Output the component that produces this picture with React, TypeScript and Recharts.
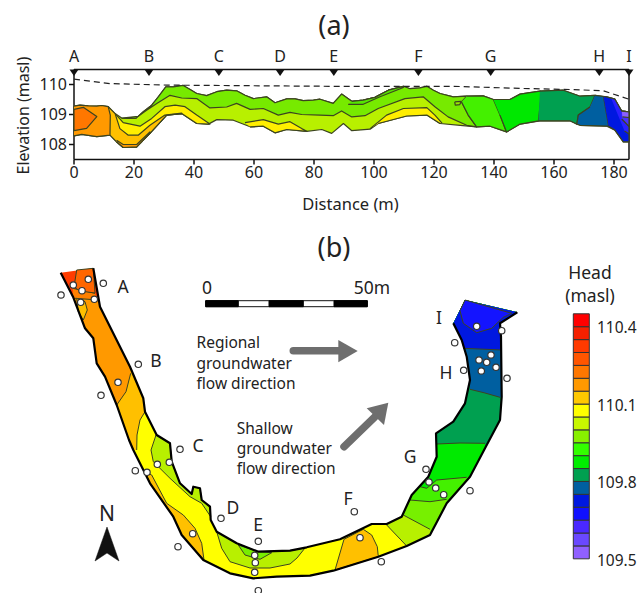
import { Bar, BarChart, Scatter, ScatterChart, XAxis, YAxis } from 'recharts'

type Pt = [number, number]

const FONT = '"Noto Sans", sans-serif'
const INK = '#222222'
const CONTOUR = '#3c4420'

// (a) longitudinal section, distance (m) / elevation (masl)
const distanceTicks = [0, 20, 40, 60, 80, 100, 120, 140, 160, 180]
const elevationTicks = [108, 109, 110]
const sectionNames = ['A', 'B', 'C', 'D', 'E', 'F', 'G', 'H', 'I']
const sectionDistances = [0, 25, 48.3, 68.7, 86.6, 114.8, 138.9, 175.1, 185]

const waterTable: Pt[] = [
  [0, 110.18], [12, 110.03], [30.9, 109.98], [85.3, 109.94], [126.4, 109.94],
  [148.7, 109.87], [166.5, 109.83], [176.5, 109.79], [185, 109.51],
]

const topEdge: Pt[] = [
  [0, 109.28], [2, 109.31], [4.8, 109.29], [7.6, 109.28], [9.2, 109.3], [11.4, 109.26], [13.7, 109.03],
  [15.9, 108.88], [18.1, 108.87], [20.7, 108.88], [23.1, 109.09], [25.9, 109.31], [28.1, 109.59],
  [30.6, 109.92], [33.1, 109.92], [36.4, 109.97], [38.7, 109.83], [40.9, 109.7], [44.2, 109.63],
  [47.6, 109.76], [50.9, 109.81], [54.2, 109.79], [57, 109.64], [59.8, 109.53], [64.2, 109.59],
  [67, 109.39], [70.9, 109.52], [73.7, 109.52], [76.4, 109.46], [79.8, 109.48], [82, 109.51],
  [86.4, 109.37], [89.2, 109.68], [92.6, 109.44], [96.4, 109.48], [100.3, 109.57], [104.8, 109.81],
  [109.8, 109.94], [112, 109.86], [115.3, 109.89], [117.6, 109.94], [119.8, 109.81], [122, 109.7],
  [126.4, 109.59], [130.9, 109.61], [136.4, 109.62], [139.8, 109.5], [145.3, 109.5], [148.7, 109.68],
  [155.3, 109.78], [163.1, 109.81], [168.7, 109.61], [173.7, 109.64], [177.6, 109.59], [180.3, 109.51],
  [182.6, 109.11], [185, 109.09],
]

const bottomEdge: Pt[] = [
  [0, 108.29], [2.6, 108.34], [7.6, 108.26], [12, 108.31], [14.2, 108.09], [16.4, 107.9], [20.9, 107.92],
  [25.3, 108.37], [30.9, 108.98], [35.9, 109.03], [40.9, 108.7], [44.8, 108.68], [47.6, 108.83],
  [53.1, 108.81], [58.7, 108.59], [63.1, 108.61], [67, 108.39], [70.9, 108.5], [77.6, 108.44],
  [82.6, 108.5], [85.9, 108.37], [89.8, 108.7], [92.6, 108.46], [98.7, 108.51], [101.4, 108.7],
  [110.9, 108.95], [117.6, 108.98], [122, 108.7], [128.7, 108.64], [134.2, 108.59], [138.7, 108.61],
  [144.2, 108.42], [148.7, 108.68], [155.3, 108.79], [165.3, 108.79], [168.7, 108.64], [177.6, 108.61],
  [180.3, 108.48], [183.1, 108.09], [185, 108.09],
]

const greenContour: Pt[] = [
  [15.9, 108.88], [21.4, 108.94], [24.2, 109.14], [27.6, 109.37], [32, 109.64], [35.9, 109.55],
  [40.9, 109.53], [45.3, 109.22], [50.9, 109.25], [54.2, 109.37], [58.7, 109.17], [63.1, 109.2],
  [68.1, 108.98], [72, 109.07], [75.9, 109], [82, 108.98], [86.4, 108.96], [89.2, 109.12], [92.6, 108.92],
  [97, 108.96], [101.4, 109.2], [110.3, 109.53], [116.4, 109.59], [120.3, 109.26], [124.7, 108.92],
  [130.9, 108.64], [134.2, 108.59],
]
const upperContour: Pt[] = [[91.4, 109.34], [96.4, 109.34], [102, 109.59], [109.8, 109.9]]
const yellowContour: Pt[] = [
  [13.7, 109.03], [16.4, 108.73], [22, 108.61], [25.9, 108.87], [30.3, 109.26], [33.7, 109.31],
  [37, 109.26], [40.9, 108.98], [45.3, 108.68],
]
const amberContour: Pt[] = [
  [11.4, 109.26], [13.7, 109.03], [15.3, 108.53], [18.1, 108.31], [21.4, 108.31], [25.3, 108.64],
  [30.3, 108.98], [35.9, 109.05],
]
const orangeContour: Pt[] = [[14.2, 108.14], [16.4, 108], [20.9, 108], [25.3, 108.42]]
const orangeCore: Pt[] = [[0, 109.17], [3.1, 109.24], [7.6, 108.93], [4.2, 108.54], [0, 108.46]]
const yellowMid: Pt[] = [[57, 108.73], [63.1, 108.83], [68.1, 108.68], [72, 108.76], [75.9, 108.53], [77.6, 108.44]]
const yellowRight: Pt[] = [[98.7, 108.53], [104.2, 108.98], [109.8, 109.2], [117.6, 109.23], [120.3, 108.98], [122.6, 108.72]]
const smallLens: Pt[] = [[126.9, 109.42], [129.1, 109.44], [128.6, 109.33], [127.1, 109.31]]

// (b) plan view, in map units
const outerBank: Pt[] = [
  [60.7, 272.7], [73, 296.7], [85, 328.3], [93.3, 338.3], [96.7, 363.3], [105, 376.7], [116.7, 405], [129, 440],
  [133.3, 450], [150, 483.3], [173.3, 516.7], [181.7, 535], [203.3, 560], [230, 573.3], [253.3, 578.3],
  [276.7, 576.7], [310, 575.7], [333.3, 570.7], [378.3, 556.7], [406.7, 546], [430, 535], [446.7, 503.3],
  [470, 476.7], [485, 448.3], [500, 420], [501.7, 396.7], [501, 336.7], [500, 323.3], [517.3, 312.3],
]
const innerBank: Pt[] = [
  [93.3, 268.3], [100, 306.7], [130, 366.7], [143.3, 398.3], [145, 411.7], [156.7, 435], [170, 443.3],
  [171.7, 461.7], [180, 483.3], [191.7, 494], [193.3, 486.7], [200, 488.3], [201.7, 500], [210, 506.7],
  [210.7, 520], [216.7, 531.7], [236.7, 543.3], [258.3, 551.7], [290, 550.7], [306.7, 547.3], [340, 539.3],
  [371.7, 524], [386.7, 524], [401.7, 516.7], [411.7, 495], [428.3, 476.7], [436.7, 456.7], [436, 433.3],
  [453.3, 421.7], [465, 403.3], [470, 380], [466.7, 356.7], [461.7, 340], [453.3, 323.3], [465, 300],
]

// contours crossing the channel, outer bank first
const channelCuts: Pt[][] = [
  [[72.7, 288.3], [95, 293.3]],
  [[75, 298.3], [98.3, 300]],
  [[116.7, 405], [126, 391.7], [130.7, 373.3]],
  [[136.7, 450], [137, 435], [140, 420], [145, 411.7]],
  [[406.7, 546], [386.7, 525]],
  [[430, 529.3], [403.3, 515]],
  [[446.7, 499.3], [430, 501.7], [410, 500]],
  [[466.7, 477.3], [436.7, 480], [426.7, 488.3], [420, 486.7]],
  [[485, 443.3], [460, 443], [436.7, 444]],
  [[500, 397.3], [485, 393], [470, 389.3]],
  [[501.7, 350], [463.3, 348.3]],
]
const channelColors = ['#ff8000', '#ff9900', '#ffc000', '#ffff00', '#b8f000', '#77f000', '#44f000', '#00ea00', '#00a050', '#005fa0', '#0018e0']

const patches: { pts: Pt[]; fill: string }[] = [
  { fill: '#ff6600', pts: [[76.7, 270], [93.3, 268.3], [95, 293], [80, 291], [74, 287]] },
  { fill: '#ffc000', pts: [[76.7, 298.3], [85, 301.7], [87.3, 310], [83.3, 320], [78.3, 311.7]] },
  { fill: '#b8f000', pts: [[156, 435], [170, 443.3], [171.7, 461.7], [180, 483.3], [191.7, 494], [193.3, 486.7], [200, 488.3], [201.7, 500], [210, 506.7], [210.7, 516.7], [201.7, 503.3], [190, 496.7], [170, 478.3], [153.3, 461.7], [151, 450]] },
  { fill: '#ffc000', pts: [[145, 471.7], [151.7, 475], [166.7, 503.3], [183.3, 515], [195, 528.3], [201.7, 543.3], [204, 560], [181.7, 535], [173.3, 516.7], [150, 483.3]] },
  { fill: '#b8f000', pts: [[216.7, 531.7], [236.7, 543.3], [258.3, 551.7], [290, 550.7], [305, 548], [297, 558], [290, 564], [270, 568], [250, 568], [230, 561.7], [221.7, 548.3]] },
  { fill: '#77ee00', pts: [[238.3, 545], [245, 555], [260, 559.3], [271.7, 552.7], [258.3, 551.7]] },
  { fill: '#ffc000', pts: [[335, 570], [344, 539.3], [363.3, 529.3], [371.7, 535], [377.3, 546.7], [378.3, 556.7]] },
  { fill: '#1414ff', pts: [[460, 310.7], [465, 300], [511.7, 313.3], [503.3, 317.3], [491.7, 328.3], [476.7, 332.7], [463.3, 323.3]] },
]

const wells: Pt[] = [
  [103.3, 283.3], [88.3, 279.3], [73.3, 285], [82, 290.7], [61, 295], [80.7, 302.3], [94.3, 299.3], [138.3, 364.3],
  [118, 382.3], [101, 395.3], [180, 449.3], [169.3, 462.3], [157.3, 464.3], [147, 472.3], [135.3, 470.7], [221, 518.3],
  [192.7, 533.7], [178, 546.7], [258.3, 541.3], [254.7, 555.3], [255.3, 562.7], [254.7, 572.3], [258.3, 590.7],
  [354.3, 511.7], [360, 537.7], [381.3, 561.7], [426, 469.3], [429, 482], [435.7, 488], [443.7, 494.7], [470, 490.7],
  [476.7, 326.3], [501.7, 330.7], [454.7, 342.7], [491, 355], [479, 360], [486.7, 362.3], [496, 367.3], [481.3, 371],
  [463.7, 370.3], [507, 378.3],
]

const siteLabels = [
  { x: 123, y: 286, text: 'A' }, { x: 156, y: 360, text: 'B' }, { x: 198, y: 445, text: 'C' },
  { x: 233, y: 507, text: 'D' }, { x: 258, y: 524, text: 'E' }, { x: 348, y: 498, text: 'F' },
  { x: 410, y: 456, text: 'G' }, { x: 446, y: 372, text: 'H' }, { x: 439, y: 317, text: 'I' },
]
const panelTitles = [{ x: 334, y: 24, text: '(a)' }, { x: 334, y: 246, text: '(b)' }]
const noteLines = [
  { x: 196.5, y: 341.7, text: 'Regional' }, { x: 196.5, y: 362.7, text: 'groundwater' }, { x: 196.5, y: 382.7, text: 'flow direction' },
  { x: 236.7, y: 428, text: 'Shallow' }, { x: 236.7, y: 448, text: 'groundwater' }, { x: 236.7, y: 468, text: 'flow direction' },
]
const scaleLabels = [{ x: 207, y: 287, text: '0' }, { x: 372, y: 287, text: '50m' }]
const legendTitle = [{ x: 590, y: 272, text: 'Head' }, { x: 590, y: 295, text: '(masl)' }]
const northLabel = [{ x: 107, y: 513, text: 'N' }]

const scaleBlocks: Pt[][] = [
  [[205.7, 300.7], [238.3, 300.7], [238.3, 306.7], [205.7, 306.7]],
  [[269, 300.7], [303.3, 300.7], [303.3, 306.7], [269, 306.7]],
  [[334, 300.7], [367.3, 300.7], [367.3, 306.7], [334, 306.7]],
]
const scaleFrame: Pt[] = [[205.7, 300.7], [367.3, 300.7], [367.3, 306.7], [205.7, 306.7], [205.7, 300.7]]
const northArrow: Pt[] = [[107, 527], [119, 561], [107, 553], [95, 561]]
const regionalShaft: Pt[] = [[293.3, 350.7], [340, 350.7]]
const regionalHead: Pt[] = [[338.3, 340], [357.7, 351], [338.3, 362.3]]
const shallowShaft: Pt[] = [[344, 446.7], [375, 416.7]]
const shallowHead: Pt[] = [[388.3, 402.7], [384, 425], [366.7, 408.3]]

// legend classes, lowest head first
const legendColors = [
  '#9060ff', '#6a48ff', '#4a28ff', '#1010ff', '#0018e0', '#005fa0', '#00a050', '#00ee00', '#33ff00', '#88f000',
  '#c8f800', '#ffff00', '#ffc800', '#ff9900', '#ff7700', '#ff5500', '#ff3a00', '#f52000', '#ff0000',
]
const legendTicks = [109.5, 109.8, 110.1, 110.4]
const legendBase = 109.505
const legendStep = 0.05

const legendRow: Record<string, number | string> = { name: 'head', base: legendBase }
legendColors.forEach((_, i) => {
  legendRow[`c${i}`] = legendStep
})

const toData = (pts: Pt[]) => pts.map(([x, y]) => ({ x, y }))
const rev = (pts: Pt[]) => [...pts].reverse()
const between = (edge: Pt[], a: number, b: number) => edge.filter(([x]) => x >= a && x <= b)
const close = (pts: Pt[]) => [...pts, pts[0]]

const NoMark = () => <g />

function nearest(bank: Pt[], p: Pt) {
  let best = 0
  let bestD = Infinity
  bank.forEach(([x, y], i) => {
    const d = (x - p[0]) ** 2 + (y - p[1]) ** 2
    if (d < bestD) {
      bestD = d
      best = i
    }
  })
  return best
}

// channel from a contour to the far end at I
function downstreamOf(cut: Pt[]): Pt[] {
  const o = nearest(outerBank, cut[0])
  const n = nearest(innerBank, cut[cut.length - 1])
  return [...cut, ...innerBank.slice(n), ...rev(outerBank.slice(o))]
}

function poly(key: string, pts: Pt[], fill: string, stroke = 'none', strokeWidth = 1.2, extra: object = {}) {
  return (
    <Scatter
      key={key}
      data={toData(pts)}
      shape={NoMark}
      line={{ fill, stroke, strokeWidth, strokeLinejoin: 'round', ...extra }}
      isAnimationActive={false}
    />
  )
}

function textGroup(
  key: string,
  data: { x: number; y: number; text: string }[],
  size: number,
  anchor: 'start' | 'middle' | 'end' = 'middle',
) {
  return (
    <Scatter
      key={key}
      data={data}
      isAnimationActive={false}
      shape={(p: any) => (
        <text
          x={p.cx}
          y={p.cy}
          fontSize={size}
          fontFamily={FONT}
          fill={INK}
          textAnchor={anchor}
          dominantBaseline="central"
        >
          {p.payload?.text ?? p.text}
        </text>
      )}
    />
  )
}

function SectionMark(p: any) {
  const { cx, cy } = p
  const name = p.payload?.name ?? p.name
  return (
    <g>
      <path d={`M${cx - 4.5} ${cy}L${cx + 4.5} ${cy}L${cx} ${cy + 6.5}Z`} fill="#111" />
      <text x={cx} y={cy - 8} fontSize={16} fontFamily={FONT} fill={INK} textAnchor="middle">
        {name}
      </text>
    </g>
  )
}

function WellMark(p: any) {
  return <circle cx={p.cx} cy={p.cy} r={3.2} fill="#fff" stroke="#333" strokeWidth={1.2} />
}

const sectionMarks = sectionNames.map((name, i) => ({ x: sectionDistances[i], y: 110.5, name }))
const axisTick = { fontSize: 16, fill: INK, fontFamily: FONT }

function SectionChart() {
  return (
    <ScatterChart width={639} height={215} margin={{ top: 50.5, right: 0, bottom: 10.5, left: 0 }}>
      <XAxis
        type="number"
        dataKey="x"
        domain={[0, 185]}
        ticks={distanceTicks}
        interval={0}
        height={45}
        tick={axisTick}
        tickSize={5}
        stroke="#111"
        strokeWidth={1.5}
        label={{ value: 'Distance (m)', position: 'insideBottom', offset: -5, fontSize: 16.5, fill: INK, fontFamily: FONT, dx: -1 }}
      />
      <XAxis
        xAxisId="top"
        orientation="top"
        type="number"
        dataKey="x"
        domain={[0, 185]}
        ticks={distanceTicks}
        interval={0}
        height={19}
        tick={false}
        tickSize={5}
        stroke="#111"
        strokeWidth={1.5}
      />
      <YAxis
        type="number"
        dataKey="y"
        domain={[107.5, 110.5]}
        ticks={elevationTicks}
        interval={0}
        width={74}
        tick={axisTick}
        tickSize={5}
        stroke="#111"
        strokeWidth={1.5}
        label={{ value: 'Elevation (masl)', angle: -90, position: 'insideLeft', offset: 23, fontSize: 16, fill: INK, fontFamily: FONT, dy: 60 }}
      />
      <YAxis
        yAxisId="right"
        orientation="right"
        type="number"
        dataKey="y"
        domain={[107.5, 110.5]}
        ticks={elevationTicks}
        interval={0}
        width={10}
        tick={false}
        tickSize={4}
        stroke="#111"
        strokeWidth={1.5}
      />
      {poly('all', close([...topEdge, ...rev(bottomEdge)]), '#b8f000', CONTOUR)}
      {poly('upper', [...between(topEdge, 15.9, 130.9), [129.2, 109.42], [131.4, 108.98], ...rev(greenContour)], '#77ea00', CONTOUR)}
      {poly('thin', [...between(topEdge, 92.6, 109.8), ...rev(upperContour)], '#55e600', CONTOUR)}
      {poly('lens', close(smallLens), '#99e800', CONTOUR)}
      {poly('yellow', [...yellowContour, ...rev(between(bottomEdge, 14.2, 44.8))], '#ffee00', CONTOUR)}
      {poly('yellow2', [...yellowMid, ...rev(between(bottomEdge, 58.7, 77.6))], '#ffee00', CONTOUR)}
      {poly('yellow3', [...yellowRight, ...rev(between(bottomEdge, 101.4, 122))], '#ffee00', CONTOUR)}
      {poly('amber', [...amberContour, ...rev(between(bottomEdge, 12, 35.9))], '#ffc000', CONTOUR)}
      {poly('sliver', [...orangeContour, ...rev(between(bottomEdge, 14.2, 25.3))], '#ff9900', CONTOUR)}
      {poly('orange', [...between(topEdge, 0, 11.4), [12.1, 108.98], ...rev(between(bottomEdge, 0, 12))], '#ff9900', CONTOUR)}
      {poly('core', close(orangeCore), '#ff7700', CONTOUR)}
      {poly('g2', [...between(topEdge, 130.9, 139.8), [142, 108.98], [144, 108.45], ...rev(between(bottomEdge, 134.2, 144.2)), [131.4, 108.98], [129.2, 109.42]], '#44f000', CONTOUR)}
      {poly('g3', [...between(topEdge, 139.8, 155.3), [155.9, 109.76], [154.8, 108.79], ...rev(between(bottomEdge, 144.2, 154)), [142, 108.98]], '#00e800', CONTOUR)}
      {poly('g4', [...between(topEdge, 155.3, 173.7), [172, 109.25], [168.1, 108.98], [167.6, 108.68], ...rev(between(bottomEdge, 155.3, 167)), [154.8, 108.79]], '#00a050', CONTOUR)}
      {poly('g5', [[173.7, 109.64], [176.5, 109.6], [178.2, 108.61], [168.7, 108.64], [167.6, 108.68], [168.1, 108.98], [172, 109.25]], '#005fa0', CONTOUR)}
      {poly('g6', [[176.5, 109.6], ...between(topEdge, 177, 185), ...rev(between(bottomEdge, 178, 185)), [178.2, 108.61]], '#0018e0', CONTOUR)}
      {poly('g7', [[179, 109.55], [180.3, 109.51], [182.6, 109.11], [185, 109.09], [185, 108.35], [183.5, 108.45]], '#2a20ff', CONTOUR)}
      {poly('g7b', [[182.6, 109.11], [185, 109.09], [185, 108.6], [182.6, 108.85]], '#4a30ff', CONTOUR)}
      {poly('g8', [[182.6, 109.11], [185, 109.09], [185, 108.9], [182.8, 108.92]], '#8a60ff', CONTOUR)}
      {poly('water', waterTable, 'none', '#222', 1.2, { strokeDasharray: '6 4' })}
      <Scatter data={sectionMarks} shape={SectionMark} isAnimationActive={false} />
    </ScatterChart>
  )
}

function MapChart() {
  return (
    <ScatterChart width={639} height={593} margin={{ top: 0, right: 0, bottom: 0, left: 0 }}>
      <XAxis type="number" dataKey="x" domain={[0, 639]} hide />
      <YAxis type="number" dataKey="y" domain={[0, 593]} reversed hide />
      {poly('base', [...innerBank, ...rev(outerBank)], '#ff3c00')}
      {channelCuts.map((cut, i) => poly(`zone${i}`, downstreamOf(cut), channelColors[i]))}
      {channelCuts.map((cut, i) => poly(`cut${i}`, cut, 'none', CONTOUR, 1))}
      {patches.map((p, i) => poly(`patch${i}`, close(p.pts), p.fill, CONTOUR, 1))}
      {poly('outer', outerBank, 'none', '#000', 2.2)}
      {poly('inner', innerBank.slice(0, -1), 'none', '#000', 2.2)}
      <Scatter data={toData(wells)} shape={WellMark} isAnimationActive={false} />
      {textGroup('sites', siteLabels, 17.5)}
      {textGroup('titles', panelTitles, 27)}
      {textGroup('notes', noteLines, 15.5, 'start')}
      {textGroup('scale', scaleLabels, 17.5)}
      {textGroup('legendTitle', legendTitle, 17.5)}
      {textGroup('north', northLabel, 21)}
      {poly('scaleFrame', scaleFrame, '#fff', '#111', 1)}
      {scaleBlocks.map((b, i) => poly(`scale${i}`, close(b), '#000', '#000', 1))}
      {poly('northArrow', close(northArrow), '#111', '#111', 0.5)}
      {poly('regionalShaft', regionalShaft, 'none', '#6e6e6e', 7.5, { strokeLinecap: 'round' })}
      {poly('regionalHead', close(regionalHead), '#6e6e6e')}
      {poly('shallowShaft', shallowShaft, 'none', '#6e6e6e', 7.5, { strokeLinecap: 'round' })}
      {poly('shallowHead', close(shallowHead), '#6e6e6e')}
    </ScatterChart>
  )
}

function LegendBar() {
  return (
    <BarChart
      width={79}
      height={593}
      data={[legendRow]}
      barCategoryGap={0}
      margin={{ top: 302.2, right: 0, bottom: 20, left: 13.3 }}
    >
      <XAxis dataKey="name" hide />
      <YAxis
        orientation="right"
        type="number"
        domain={[109.45, 110.5]}
        allowDataOverflow
        ticks={legendTicks}
        interval={0}
        width={50}
        axisLine={false}
        tickLine={false}
        tick={{ fontSize: 15.5, fill: INK, fontFamily: FONT }}
        tickFormatter={(v: number) => v.toFixed(1)}
      />
      <Bar dataKey="base" stackId="head" fill="none" isAnimationActive={false} />
      {legendColors.map((color, i) => (
        <Bar key={color} dataKey={`c${i}`} stackId="head" fill={color} stroke="#333" strokeWidth={1} isAnimationActive={false} />
      ))}
    </BarChart>
  )
}

export default function App() {
  return (
    <div style={{ position: 'absolute', left: 0, top: 0, width: 639, height: 593, background: '#fff', overflow: 'hidden' }}>
      <div style={{ position: 'absolute', left: 0, top: 0 }}>
        <MapChart />
      </div>
      <div style={{ position: 'absolute', left: 0, top: 0 }}>
        <SectionChart />
      </div>
      <div style={{ position: 'absolute', left: 560, top: 0 }}>
        <LegendBar />
      </div>
    </div>
  )
}
